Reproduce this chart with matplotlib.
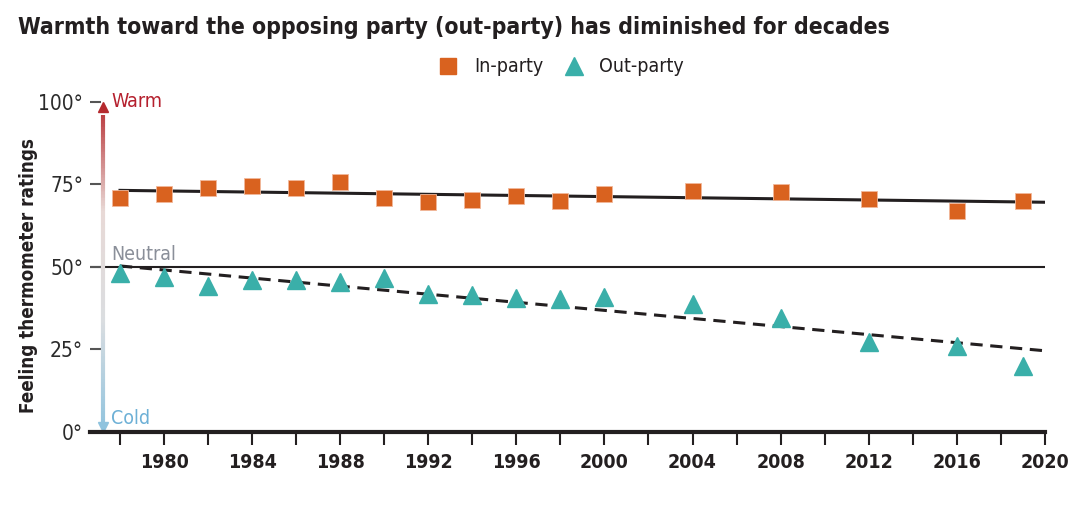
import numpy as np
import matplotlib.pyplot as plt
from matplotlib.colors import LinearSegmentedColormap
from matplotlib.collections import LineCollection

plt.rcParams['font.family'] = ['DejaVu Sans']
plt.rcParams['font.stretch'] = 'condensed'

years = [1978, 1980, 1982, 1984, 1986, 1988, 1990, 1992, 1994, 1996, 1998,
         2000, 2004, 2008, 2012, 2016, 2019]
in_party = [70.9, 72.1, 73.9, 74.5, 73.9, 75.8, 70.9, 69.7, 70.3, 71.5, 70.0,
            72.1, 73.0, 72.7, 70.6, 67.0, 70.0]
out_party = [48.2, 47.0, 44.2, 46.1, 46.1, 45.5, 46.7, 41.8, 41.5, 40.6, 40.3,
             40.9, 38.8, 34.5, 27.3, 26.1, 20.0]

# trend lines as drawn in the original
trend_years = [1978, 2020]
in_trend = [73.2, 69.6]
out_trend = [50.3, 24.6]

year_ticks = list(range(1978, 2021, 2))
year_labels = list(range(1980, 2021, 4))
y_ticks = [0, 25, 50, 75, 100]

orange = '#D9621F'
teal = '#3AAFA9'
dark = '#231F20'

fig = plt.figure(figsize=(10.85, 5.07), dpi=100)
ax = fig.add_axes([0.083, 0.148, 0.880, 0.651])
ax.set_xlim(1976.64, 2020)
ax.set_ylim(0, 100)

ax.axhline(50, color=dark, lw=1.5, zorder=1)
ax.plot(trend_years, in_trend, color=dark, lw=2.2, zorder=2)
ax.plot(trend_years, out_trend, color=dark, lw=2.2, ls=(0, (4, 2.5)), zorder=2)
ax.plot(years, in_party, ls='none', marker='s', ms=11, color=orange,
        mec='#F2B89A', mew=0.6, zorder=3)
ax.plot(years, out_party, ls='none', marker='^', ms=13, color=teal,
        mec=teal, zorder=3)

# gradient arrow warm -> neutral -> cold
cmap = LinearSegmentedColormap.from_list('wc', ['#B52A2E', '#E8D9D6', '#DADDE0', '#8FC3DE'])
ax_x = 1977.23
ys = np.linspace(3, 96, 200)
segs = [[(ax_x, ys[i]), (ax_x, ys[i + 1])] for i in range(len(ys) - 1)]
lc = LineCollection(segs, colors=cmap(1 - ys[:-1] / 100), lw=3, zorder=2, clip_on=False)
ax.add_collection(lc)
ax.plot([ax_x], [98.5], marker='^', ms=7, color='#B52A2E', clip_on=False, zorder=2)
ax.plot([ax_x], [1.5], marker='v', ms=7, color='#8FC3DE', clip_on=False, zorder=2)
ax.text(1977.6, 100, 'Warm', color='#B5202E', fontsize=14, va='center', ha='left')
ax.text(1977.6, 53.7, 'Neutral', color='#8A8F99', fontsize=14, va='center', ha='left')
ax.text(1977.6, 4.2, 'Cold', color='#6DB0D6', fontsize=14, va='center', ha='left')

for s in ['top', 'right', 'left']:
    ax.spines[s].set_visible(False)
ax.spines['bottom'].set_linewidth(3)
ax.spines['bottom'].set_color(dark)

ax.set_xticks(year_ticks)
ax.set_xticklabels([str(y) if y in year_labels else '' for y in year_ticks],
                   fontsize=14, fontweight='bold', color=dark)
ax.tick_params(axis='x', length=9, width=1.5, color=dark, pad=6)
ax.set_yticks(y_ticks)
ax.set_yticklabels([f'{v}°' for v in y_ticks], fontsize=15, color='#2B2B2B')
ax.tick_params(axis='y', direction='in', length=8, width=1.5, color='#555555', pad=5)

ax.set_ylabel('Feeling thermometer ratings', fontsize=13.5, fontweight='bold', color=dark)
ax.yaxis.set_label_coords(-0.054, 0.473)

fig.text(0.017, 0.945, 'Warmth toward the opposing party (out-party) has diminished for decades',
         fontsize=16.5, fontweight='bold', color=dark, va='center', ha='left')

h1, = ax.plot([], [], ls='none', marker='s', ms=11, color=orange)
h2, = ax.plot([], [], ls='none', marker='^', ms=13, color=teal)
fig.legend([h1, h2], ['In-party', 'Out-party'], loc='center', bbox_to_anchor=(0.513, 0.868),
           ncol=2, frameon=False, fontsize=14, handletextpad=0.3, columnspacing=0.6,
           labelcolor=dark)

fig.savefig('out.png', dpi=100)
